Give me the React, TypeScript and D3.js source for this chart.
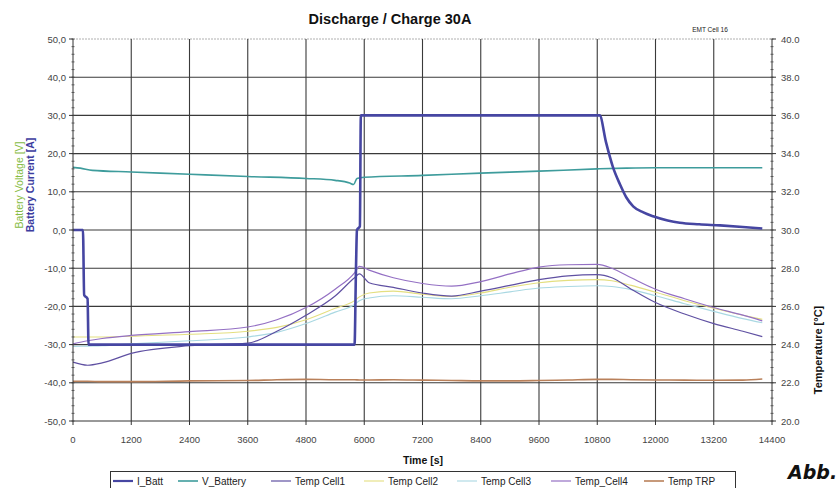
import React from "react";
import * as d3 from "d3";

// Battery current [A]
const I_BATT_TIME = [0, 205, 230, 300, 320, 5800, 5830, 5850, 5910, 5930, 10850, 10980, 11120, 11270, 11400, 11540, 11750, 11950, 12250, 12500, 12900, 13330, 13800, 14200];
const I_BATT = [0, 0, -17, -18, -30, -30, -10, 0, 1, 30, 30, 23, 16.6, 11.9, 8.5, 6.2, 4.6, 3.6, 2.5, 1.9, 1.5, 1.2, 0.8, 0.4];

// Battery voltage [V]
const V_BATT_TIME = [0, 150, 400, 1200, 2400, 3600, 4800, 5400, 5700, 5780, 5850, 6000, 7200, 8400, 9600, 10800, 11400, 12000, 14200];
const V_BATT = [16.4, 16.2, 15.6, 15.2, 14.6, 14.0, 13.5, 13.0, 12.3, 11.9, 13.5, 13.8, 14.3, 14.9, 15.4, 16.0, 16.2, 16.3, 16.3];

// Temperatures [°C]
const TEMP_TIME = [0, 300, 600, 1200, 2400, 3600, 4200, 4800, 5400, 5800, 5900, 6100, 6600, 7200, 7800, 8400, 9000, 9600, 10200, 10800, 11100, 11500, 12000, 12600, 13200, 13800, 14200];
const TEMP_CELL1 = [23.08, 22.92, 23.04, 23.54, 23.94, 24.08, 24.7, 25.54, 26.54, 27.5, 27.7, 27.24, 27.0, 26.7, 26.54, 26.8, 27.1, 27.4, 27.6, 27.66, 27.5, 26.9, 26.2, 25.6, 25.1, 24.7, 24.42];
const TEMP_CELL2 = [24.4, 24.4, 24.4, 24.44, 24.54, 24.7, 24.9, 25.3, 25.9, 26.3, 26.5, 26.7, 26.8, 26.64, 26.52, 26.7, 27.0, 27.24, 27.36, 27.4, 27.34, 27.1, 26.74, 26.3, 25.9, 25.54, 25.32];
const TEMP_CELL3 = [23.9, 23.92, 23.94, 24.04, 24.2, 24.4, 24.64, 25.1, 25.7, 26.1, 26.3, 26.44, 26.56, 26.48, 26.4, 26.56, 26.76, 26.96, 27.04, 27.08, 27.04, 26.88, 26.56, 26.14, 25.74, 25.36, 25.14];
const TEMP_CELL4 = [24.04, 24.2, 24.32, 24.48, 24.68, 24.92, 25.3, 25.94, 26.9, 27.76, 28.1, 27.9, 27.5, 27.2, 27.06, 27.3, 27.7, 28.06, 28.18, 28.2, 28.0, 27.5, 26.9, 26.4, 25.94, 25.54, 25.24];
const TEMP_TRP = [22.08, 22.08, 22.06, 22.06, 22.1, 22.12, 22.16, 22.18, 22.16, 22.16, 22.15, 22.15, 22.16, 22.14, 22.12, 22.1, 22.1, 22.12, 22.15, 22.18, 22.18, 22.16, 22.15, 22.14, 22.13, 22.14, 22.2];

// Axis ticks
const X_TICKS = [0, 1200, 2400, 3600, 4800, 6000, 7200, 8400, 9600, 10800, 12000, 13200, 14400];
const LEFT_TICKS = [50, 40, 30, 20, 10, 0, -10, -20, -30, -40, -50];
const RIGHT_TICKS = [40, 38, 36, 34, 32, 30, 28, 26, 24, 22, 20];

const LEGEND_LABELS = ["I_Batt", "V_Battery", "Temp Cell1", "Temp Cell2", "Temp Cell3", "Temp_Cell4", "Temp TRP"];

const FONT = "'Liberation Sans', Arial, sans-serif";

export default function App() {
  const left = 73, right = 772, top = 39, bottom = 421;
  const x = d3.scaleLinear().domain([0, 14400]).range([left, right]);
  const yL = d3.scaleLinear().domain([-50, 50]).range([bottom, top]);
  const yR = d3.scaleLinear().domain([20, 40]).range([bottom, top]);

  const mk = (ts: number[], vs: number[], y: d3.ScaleLinear<number, number>) =>
    d3.line<number>().x((_, i) => x(ts[i])).y((v) => y(v)).curve(d3.curveMonotoneX)(vs) || "";

  const series = [
    { label: "Temp TRP", d: mk(TEMP_TIME, TEMP_TRP, yR), color: "#b9805a", w: 1.6 },
    { label: "Temp Cell3", d: mk(TEMP_TIME, TEMP_CELL3, yR), color: "#a9d8e2", w: 1.1 },
    { label: "Temp Cell2", d: mk(TEMP_TIME, TEMP_CELL2, yR), color: "#e4df80", w: 1.1 },
    { label: "Temp Cell1", d: mk(TEMP_TIME, TEMP_CELL1, yR), color: "#5f50a2", w: 1.2 },
    { label: "Temp_Cell4", d: mk(TEMP_TIME, TEMP_CELL4, yR), color: "#9470c4", w: 1.2 },
    { label: "V_Battery", d: mk(V_BATT_TIME, V_BATT, yL), color: "#3e9c9c", w: 1.6 },
    { label: "I_Batt", d: mk(I_BATT_TIME, I_BATT, yL), color: "#4646a2", w: 2.6 },
  ];

  const fmtL = (v: number) => v.toFixed(1).replace(".", ",");
  const fmtR = (v: number) => v.toFixed(1);

  const minorL = d3.range(-50, 50.001, 2);
  const minorR = d3.range(20, 40.001, 0.4);

  // legend text start positions
  const legendX = [137, 202, 295, 388, 481, 575, 668];

  return (
    <svg width={838} height={488} style={{ position: "absolute", left: 0, top: 0, background: "#fff" }}>
      <text x={390} y={24} textAnchor="middle" fontFamily={FONT} fontSize={14.5} fontWeight="bold" fill="#111">
        Discharge / Charge 30A
      </text>
      <text x={710} y={32} textAnchor="middle" fontFamily={FONT} fontSize={6.5} fill="#222">
        EMT Cell 16
      </text>

      {/* grid */}
      <line x1={left} x2={right} y1={yL(50)} y2={yL(50)} stroke="#b0b0b0" strokeWidth={1} strokeDasharray="2 1" />
      {LEFT_TICKS.filter((v) => v < 50 && v > -50).map((v) => (
        <line key={"h" + v} x1={left} x2={right} y1={yL(v)} y2={yL(v)} stroke="#3a3a3a" strokeWidth={1.1} />
      ))}
      {X_TICKS.filter((t) => t > 0 && t < 14400).map((t) => (
        <line key={"v" + t} x1={x(t)} x2={x(t)} y1={top} y2={bottom} stroke="#3a3a3a" strokeWidth={1.1} />
      ))}

      {/* data */}
      {series.map((s) => (
        <path key={s.label} d={s.d} fill="none" stroke={s.color} strokeWidth={s.w} strokeLinejoin="round" />
      ))}

      {/* axes */}
      <line x1={left} x2={left} y1={top} y2={bottom} stroke="#333" strokeWidth={1} />
      <line x1={right} x2={right} y1={top} y2={bottom} stroke="#333" strokeWidth={1} />
      <line x1={left} x2={right} y1={bottom} y2={bottom} stroke="#333" strokeWidth={1} />
      {minorL.map((v) => (
        <line key={"ml" + v} x1={left - 1.5} x2={left + 1.5} y1={yL(v)} y2={yL(v)} stroke="#444" strokeWidth={0.8} />
      ))}
      {minorR.map((v, i) => (
        <line key={"mr" + i} x1={right - 1.5} x2={right + 1.5} y1={yR(v)} y2={yR(v)} stroke="#444" strokeWidth={0.8} />
      ))}
      {LEFT_TICKS.map((v) => (
        <g key={"lt" + v}>
          <line x1={left - 4} x2={left} y1={yL(v)} y2={yL(v)} stroke="#333" />
          <text x={left - 7} y={yL(v) + 3.5} textAnchor="end" fontFamily={FONT} fontSize={9.5} fill="#444">
            {fmtL(v)}
          </text>
        </g>
      ))}
      {RIGHT_TICKS.map((v) => (
        <g key={"rt" + v}>
          <line x1={right} x2={right + 4} y1={yR(v)} y2={yR(v)} stroke="#333" />
          <text x={right + 9} y={yR(v) + 3.5} textAnchor="start" fontFamily={FONT} fontSize={9.5} fill="#444">
            {fmtR(v)}
          </text>
        </g>
      ))}
      {X_TICKS.map((t) => (
        <g key={"xt" + t}>
          <line x1={x(t)} x2={x(t)} y1={bottom} y2={bottom + 4} stroke="#333" />
          <text x={x(t)} y={bottom + 22} textAnchor="middle" fontFamily={FONT} fontSize={9.5} fill="#444">
            {t}
          </text>
        </g>
      ))}

      {/* axis titles */}
      <text x={423} y={464} textAnchor="middle" fontFamily={FONT} fontSize={10.5} fontWeight="bold" fill="#111">
        Time [s]
      </text>
      <text transform="translate(23,185) rotate(-90)" textAnchor="middle" fontFamily={FONT} fontSize={10.5} fill="#86bb44">
        Battery Voltage [V]
      </text>
      <text transform="translate(34,185) rotate(-90)" textAnchor="middle" fontFamily={FONT} fontSize={10.5} fontWeight="bold" fill="#3c3ca0">
        Battery Current [A]
      </text>
      <text transform="translate(822,350) rotate(-90)" textAnchor="middle" fontFamily={FONT} fontSize={11} fontWeight="bold" fill="#111">
        Temperature [°C]
      </text>

      {/* legend */}
      <rect x={110.5} y={471.5} width={625} height={24} fill="#fff" stroke="#333" strokeWidth={1} />
      {LEGEND_LABELS.map((l, i) => {
        const s = series.find((q) => q.label === l)!;
        return (
          <g key={"lg" + l}>
            <line x1={legendX[i] - 24} x2={legendX[i] - 4} y1={481} y2={481} stroke={s.color} strokeWidth={Math.min(s.w, 2.2)} />
            <text x={legendX[i]} y={485} fontFamily={FONT} fontSize={10} fill="#222">
              {l}
            </text>
          </g>
        );
      })}

      <text x={788} y={479} fontFamily="'DejaVu Sans', Verdana, sans-serif" fontSize={19} fontWeight="bold" fontStyle="italic" fill="#111">
        Abb.
      </text>
    </svg>
  );
}
